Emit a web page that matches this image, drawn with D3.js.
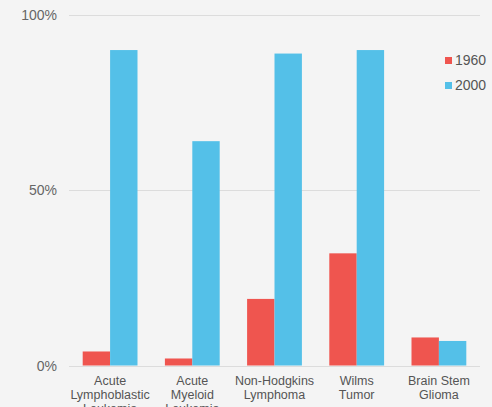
<!DOCTYPE html>
<html>
<head>
<meta charset="utf-8">
<script src="https://cdn.jsdelivr.net/npm/d3@7"></script>
<style>
  body { margin: 0; background: #f4f4f4; }
  svg { display: block; font-family: "Liberation Sans", Arial, sans-serif; }
</style>
</head>
<body>
<div id="chart"></div>
<script>
// data
let categories = [
  ["Acute", "Lymphoblastic", "Leukemia"],
  ["Acute", "Myeloid", "Leukemia"],
  ["Non-Hodgkins", "Lymphoma"],
  ["Wilms", "Tumor"],
  ["Brain Stem", "Glioma"]
];
let seriesNames = ["1960", "2000"];
let values1960 = [4, 2, 19, 32, 8];
let values2000 = [90, 64, 89, 90, 7];
let yTicks = [0, 50, 100];

let width = 492, height = 407;
let margin = {top: 15, right: 12, bottom: 41.5, left: 69};

let svg = d3.select('#chart').append("svg")
  .attr("width", width)
  .attr("height", height);

let keys = categories.map((c, i) => i);
let x0 = d3.scaleBand().domain(keys).range([margin.left, width - margin.right]).paddingInner(1/3).paddingOuter(1/6);
let x1 = d3.scaleBand().domain(seriesNames).range([0, x0.bandwidth()]);
let y = d3.scaleLinear().domain([0, 100]).range([height - margin.bottom, margin.top]);

let color = d3.scaleOrdinal().domain(seriesNames).range(["#ef554f", "#54c0e8"]);

// gridlines
svg.append("g")
  .selectAll("line")
  .data(yTicks)
  .enter().append("line")
  .attr("x1", margin.left)
  .attr("x2", width - margin.right)
  .attr("y1", d => Math.round(y(d)) + 0.5)
  .attr("y2", d => Math.round(y(d)) + 0.5)
  .attr("stroke", "#dcdcdc")
  .attr("stroke-width", 1);

// y labels
svg.append("g")
  .selectAll("text")
  .data(yTicks)
  .enter().append("text")
  .attr("x", 57)
  .attr("y", d => y(d) + 5)
  .attr("text-anchor", "end")
  .attr("font-size", 14)
  .attr("fill", "#666")
  .text(d => d + "%");

let rows = keys.map(i => ({key: i, values: [
  {name: "1960", value: values1960[i]},
  {name: "2000", value: values2000[i]}
]}));

let slice = svg.selectAll(".slice")
  .data(rows)
  .enter().append("g")
  .attr("class", "slice")
  .attr("transform", d => "translate(" + x0(d.key) + ",0)");

slice.selectAll("rect")
  .data(d => d.values)
  .enter().append("rect")
  .attr("x", d => x1(d.name))
  .attr("width", x1.bandwidth())
  .attr("y", d => y(d.value))
  .attr("height", d => y(0) - y(d.value))
  .attr("fill", d => color(d.name));

// category labels
let labels = svg.append("g")
  .selectAll("text")
  .data(rows)
  .enter().append("text")
  .attr("text-anchor", "middle")
  .attr("font-size", 12.5)
  .attr("fill", "#555")
  .attr("transform", d => "translate(" + (x0(d.key) + x0.bandwidth() / 2) + "," + (y(0) + 19.5) + ")");

labels.selectAll("tspan")
  .data(d => categories[d.key])
  .enter().append("tspan")
  .attr("x", 0)
  .attr("y", (d, i) => i * 14)
  .text(d => d);

// legend
let legend = svg.selectAll(".legend")
  .data(seriesNames)
  .enter().append("g")
  .attr("class", "legend")
  .attr("transform", (d, i) => "translate(445," + (57 + i * 25) + ")");

legend.append("rect")
  .attr("width", 7)
  .attr("height", 7)
  .attr("fill", d => color(d));

legend.append("text")
  .attr("x", 10)
  .attr("y", 7.5)
  .attr("font-size", 14)
  .attr("fill", "#555")
  .text(d => d);
</script>
</body>
</html>
